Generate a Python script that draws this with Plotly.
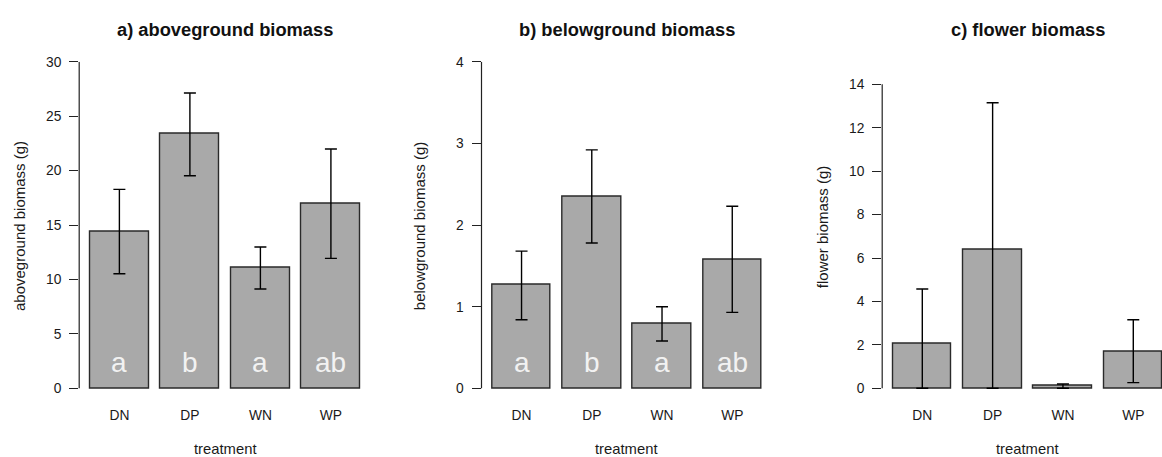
import plotly.graph_objects as go

# ---- data ----
treatments = ["DN", "DP", "WN", "WP"]

above_mean = [14.42, 23.42, 11.07, 16.99]
above_err_plus = [3.85, 3.70, 1.91, 4.99]
above_err_minus = [3.90, 3.90, 1.95, 5.05]
above_letters = ["a", "b", "a", "ab"]

below_mean = [1.27, 2.35, 0.79, 1.58]
below_err_plus = [0.41, 0.57, 0.21, 0.65]
below_err_minus = [0.43, 0.57, 0.21, 0.65]
below_letters = ["a", "b", "a", "ab"]

flower_mean = [2.07, 6.40, 0.12, 1.69]
flower_err_plus = [2.50, 6.75, 0.08, 1.47]
flower_err_minus = [2.07, 6.40, 0.12, 1.43]

above_ticks = [0, 5, 10, 15, 20, 25, 30]
below_ticks = [0, 1, 2, 3, 4]
flower_ticks = [0, 2, 4, 6, 8, 10, 12, 14]

titles = ["a) aboveground biomass", "b) belowground biomass", "c) flower biomass"]
ylabels = ["aboveground biomass (g)", "belowground biomass (g)", "flower biomass (g)"]
xlabel = "treatment"

# ---- layout geometry (R barplot style: width 1, space 0.2) ----
W, H = 1162, 457
xpos = [0.7 + 1.2 * i for i in range(len(treatments))]
BAR_FILL = "#a9a9a9"
BAR_LINE = "#2a2a2a"
FONT = "Liberation Sans, Arial, sans-serif"

panels = [
    dict(mean=above_mean, ep=above_err_plus, em=above_err_minus, letters=above_letters,
         ticks=above_ticks, yrange=[-0.3, 30.0], xdom=[79.2, 371.1], xrange=[0.016, 4.984],
         ylab_x=19.5),
    dict(mean=below_mean, ep=below_err_plus, em=below_err_minus, letters=below_letters,
         ticks=below_ticks, yrange=[-0.04, 4.0], xdom=[481.5, 772.3], xrange=[0.016, 4.984],
         ylab_x=419.7),
    dict(mean=flower_mean, ep=flower_err_plus, em=flower_err_minus, letters=None,
         ticks=flower_ticks, yrange=[-0.152, 15.04], xdom=[882.2, 1162.0], xrange=[0.016, 4.790],
         ylab_x=822.7),
]
full_right = [371.1, 772.3, 1173.4]

ydom = [1 - 391.6 / H, 1 - 61.7 / H]

fig = go.Figure()
annotations = []
shapes = []
for k, p in enumerate(panels):
    n = "" if k == 0 else str(k + 1)
    xa, ya = "x" + n, "y" + n
    fig.add_trace(go.Bar(
        x=xpos, y=p["mean"], width=1.0,
        marker=dict(color=BAR_FILL, line=dict(color=BAR_LINE, width=1.4)),
        error_y=dict(type="data", symmetric=False, array=p["ep"], arrayminus=p["em"],
                     color="#000000", thickness=1.4, width=6),
        xaxis=xa, yaxis=ya, showlegend=False, hoverinfo="skip",
    ))
    fig.update_layout(**{
        ("xaxis" + n): dict(domain=[p["xdom"][0] / W, p["xdom"][1] / W], range=p["xrange"],
                           tickvals=xpos, ticktext=treatments, showgrid=False, zeroline=False,
                           showline=False, ticks="", ticklabelstandoff=14, automargin=False,
                           tickfont=dict(family=FONT, size=13.8, color="#1a1a1a"),
                           anchor=ya, fixedrange=True),
        ("yaxis" + n): dict(domain=ydom, range=p["yrange"], tickvals=p["ticks"],
                           showgrid=False, zeroline=False, showline=False, automargin=False,
                           ticks="outside", ticklen=9, tickwidth=1.2, tickcolor="#222222",
                           ticklabelstandoff=5,
                           tickfont=dict(family=FONT, size=13.8, color="#1a1a1a"),
                           anchor=xa, fixedrange=True),
    })
    # y axis line spanning first to last tick (R style)
    shapes.append(dict(type="line", xref=xa + " domain", yref=ya, x0=0, x1=0,
                       y0=p["ticks"][0], y1=p["ticks"][-1],
                       line=dict(color="#222222", width=1.2)))
    cx = (p["xdom"][0] + full_right[k]) / 2 / W
    annotations.append(dict(text="<b>" + titles[k] + "</b>", xref="paper", yref="paper",
                            x=cx, y=1 - 29.5 / H, xanchor="center", yanchor="middle",
                            showarrow=False, font=dict(family=FONT, size=18.3, color="#111111")))
    annotations.append(dict(text=xlabel, xref="paper", yref="paper", x=cx, y=0,
                            xanchor="center", yanchor="bottom", yshift=-2, showarrow=False,
                            font=dict(family=FONT, size=14.8, color="#1a1a1a")))
    annotations.append(dict(text=ylabels[k], xref="paper", yref="paper",
                            x=p["ylab_x"] / W, y=1 - 226.5 / H, textangle=-90,
                            xanchor="center", yanchor="middle", showarrow=False,
                            font=dict(family=FONT, size=15, color="#1a1a1a")))
    if p["letters"]:
        for xi, lt in zip(xpos, p["letters"]):
            annotations.append(dict(text=lt, xref=xa, yref=ya + " domain", x=xi, y=0.088,
                                    xanchor="center", yanchor="middle", showarrow=False,
                                    font=dict(family=FONT, size=28, color="#f2f2f2")))

fig.update_layout(width=W, height=H, margin=dict(l=0, r=0, t=0, b=0, autoexpand=False),
                  paper_bgcolor="white", plot_bgcolor="white",
                  annotations=annotations, shapes=shapes, bargap=0)
fig.write_html("out.html")
